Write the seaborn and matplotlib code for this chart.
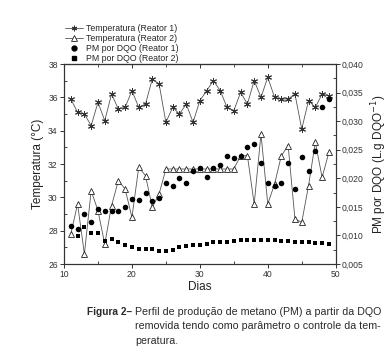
import numpy as np
import pandas as pd
import matplotlib
matplotlib.use("Agg")
import matplotlib.pyplot as plt
from matplotlib.lines import Line2D
from matplotlib.ticker import MultipleLocator, FuncFormatter, NullFormatter
import seaborn as sns

sns.set_style("ticks")
plt.rcParams['font.family'] = ['Liberation Sans', 'DejaVu Sans']

# ---- data ----
dias = list(range(11, 50))
temp_reator1 = [35.9, 35.1, 35.0, 34.3, 35.7, 34.6, 36.2, 35.3, 35.4, 36.4,
                35.4, 35.6, 37.1, 36.8, 34.5, 35.4, 35.0, 35.6, 34.5, 35.8,
                36.4, 37.0, 36.4, 35.4, 35.2, 36.3, 35.6, 37.0, 36.0, 37.2,
                36.0, 35.9, 35.9, 36.2, 34.1, 35.8, 35.4, 36.2, 36.1]
temp_reator2 = [27.8, 29.6, 26.6, 30.4, 29.2, 27.2, 29.5, 31.0, 30.5, 28.8,
                31.8, 31.3, 29.4, 30.2, 31.7, 31.7, 31.7, 31.7, 31.7, 31.7,
                31.7, 31.7, 31.7, 31.7, 31.7, 32.5, 32.5, 29.6, 33.8, 29.6,
                30.8, 32.5, 33.1, 28.7, 28.5, 30.7, 33.3, 31.2, 32.7]
pm_reator1 = [0.0117, 0.0111, 0.0138, 0.0123, 0.0147, 0.0143, 0.0142, 0.0143,
              0.0149, 0.0164, 0.0162, 0.0175, 0.0161, 0.0166, 0.0191, 0.0187,
              0.0201, 0.0191, 0.0212, 0.0218, 0.0203, 0.0218, 0.0223, 0.0239,
              0.0235, 0.0239, 0.0255, 0.0260, 0.0226, 0.0191, 0.0187, 0.0191,
              0.0227, 0.0182, 0.0238, 0.0213, 0.0248, 0.0324, 0.0339]
dias_pm2 = list(range(12, 50))
pm_reator2 = [0.0099, 0.0114, 0.0105, 0.0104, 0.0091, 0.0093, 0.0088, 0.0083,
              0.0080, 0.0076, 0.0076, 0.0076, 0.0073, 0.0072, 0.0075, 0.0079,
              0.0082, 0.0084, 0.0084, 0.0085, 0.0088, 0.0089, 0.0089, 0.0091,
              0.0092, 0.0092, 0.0092, 0.0092, 0.0092, 0.0092, 0.0091, 0.0091,
              0.0089, 0.0089, 0.0088, 0.0087, 0.0086, 0.0085]

legend_labels = ["Temperatura (Reator 1)", "Temperatura (Reator 2)",
                 "PM por DQO (Reator 1)", "PM por DQO (Reator 2)"]
caption_head = "Figura 2–"
caption_lines = ["Perfil de produção de metano (PM) a partir da DQO",
                 "removida tendo como parâmetro o controle da tem-",
                 "peratura."]

df1 = pd.DataFrame({"dia": dias, "t1": temp_reator1, "t2": temp_reator2, "pm1": pm_reator1})
df2 = pd.DataFrame({"dia": dias_pm2, "pm2": pm_reator2})

fig = plt.figure(figsize=(3.92, 3.62), dpi=100)
ax = fig.add_axes([64/392, 1-264/362, (335.7-64)/392, (264-64)/362])
ax2 = ax.twinx()

line_c = "#555555"
star = (6, 2, 0)
sns.lineplot(data=df1, x="dia", y="t1", ax=ax, color=line_c, lw=0.6,
             marker=star, markersize=5, markeredgecolor="#333333",
             markeredgewidth=0.7, legend=False)
sns.lineplot(data=df1, x="dia", y="t2", ax=ax, color=line_c, lw=0.6,
             marker="^", markersize=5, markerfacecolor="white",
             markeredgecolor="#222222", markeredgewidth=0.6, legend=False)
sns.scatterplot(data=df1, x="dia", y="pm1", ax=ax2, marker="o", s=16,
                color="black", edgecolor="black", linewidth=0, legend=False, zorder=3)
sns.scatterplot(data=df2, x="dia", y="pm2", ax=ax2, marker="s", s=10,
                color="black", edgecolor="black", linewidth=0, legend=False, zorder=3)

ax.set_xlim(10, 50)
ax.set_ylim(26, 38)
ax2.set_ylim(0.005, 0.040)

fs_tick = 6.2
ax.xaxis.set_major_locator(MultipleLocator(10))
ax.xaxis.set_minor_locator(MultipleLocator(5))
ax.yaxis.set_major_locator(MultipleLocator(2))
ax.yaxis.set_minor_locator(MultipleLocator(1))
ax2.yaxis.set_major_locator(MultipleLocator(0.005))
ax2.yaxis.set_minor_locator(MultipleLocator(0.0025))
ax2.yaxis.set_major_formatter(FuncFormatter(lambda v, p: f"{v:.3f}".replace(".", ",")))

ax.tick_params(axis="both", which="major", direction="out", length=3, width=0.7,
               labelsize=fs_tick, pad=1.5, colors="#333333")
ax.tick_params(axis="both", which="minor", direction="in", length=2, width=0.6)
ax2.tick_params(axis="y", which="major", direction="out", length=3, width=0.7,
                labelsize=fs_tick, pad=1.5, colors="#333333")
ax2.tick_params(axis="y", which="minor", direction="in", length=2, width=0.6)

# top ticks (inward, no labels)
top = ax.secondary_xaxis("top")
top.xaxis.set_major_locator(MultipleLocator(10))
top.xaxis.set_minor_locator(MultipleLocator(5))
top.xaxis.set_major_formatter(NullFormatter())
top.tick_params(which="major", direction="in", length=3, width=0.7, colors="#333333")
top.tick_params(which="minor", direction="in", length=2, width=0.6, colors="#333333")
top.spines["top"].set_linewidth(0.8)
top.spines["top"].set_color("#333333")

for a in (ax, ax2):
    for s in a.spines.values():
        s.set_linewidth(0.8)
        s.set_color("#333333")
        s.set_visible(True)

ax.set_xlabel("Dias", fontsize=8.5, labelpad=1, color="#222222")
ax.set_ylabel("Temperatura (°C)", fontsize=8.5, labelpad=3, color="#222222")
ax2.set_ylabel("PM por DQO (L.g DQO$^{-1}$)", fontsize=8.5, labelpad=4, color="#222222")

handles = [
    Line2D([], [], color=line_c, lw=0.6, marker=star, markersize=4,
           markeredgecolor="#333333", markeredgewidth=0.7),
    Line2D([], [], color=line_c, lw=0.6, marker="^", markersize=4,
           markerfacecolor="white", markeredgecolor="#222222", markeredgewidth=0.6),
    Line2D([], [], color="black", lw=0, marker="o", markersize=3.5),
    Line2D([], [], color="black", lw=0, marker="s", markersize=3),
]
fig.legend(handles, legend_labels, loc="upper left",
           bbox_to_anchor=(65/392, 1-24/362), frameon=False, fontsize=6.3,
           handlelength=2.0, handletextpad=0.35, labelspacing=0.1,
           borderpad=0, borderaxespad=0)

# caption, fitted to the reference widths
cap_c = "#2a2a2a"
renderer = fig.canvas.get_renderer()

def fitted_text(x_px, y_px, s, width_px, **kw):
    t = fig.text(x_px/392, 1-y_px/362, s, fontsize=10, va="center", ha="left",
                 color=cap_c, **kw)
    w = t.get_window_extent(renderer).width
    t.set_fontsize(10 * width_px / w)
    return t

head = fitted_text(87, 311.7, caption_head, 45, fontweight="bold")
first = fitted_text(135, 311.7, caption_lines[0], 245)
fs_cap = first.get_fontsize()
for i, t in enumerate(caption_lines[1:], start=1):
    fig.text(135/392, 1-(311.7+14.7*i)/362, t, fontsize=fs_cap,
             va="center", ha="left", color=cap_c)

fig.savefig("out.png", dpi=100)
